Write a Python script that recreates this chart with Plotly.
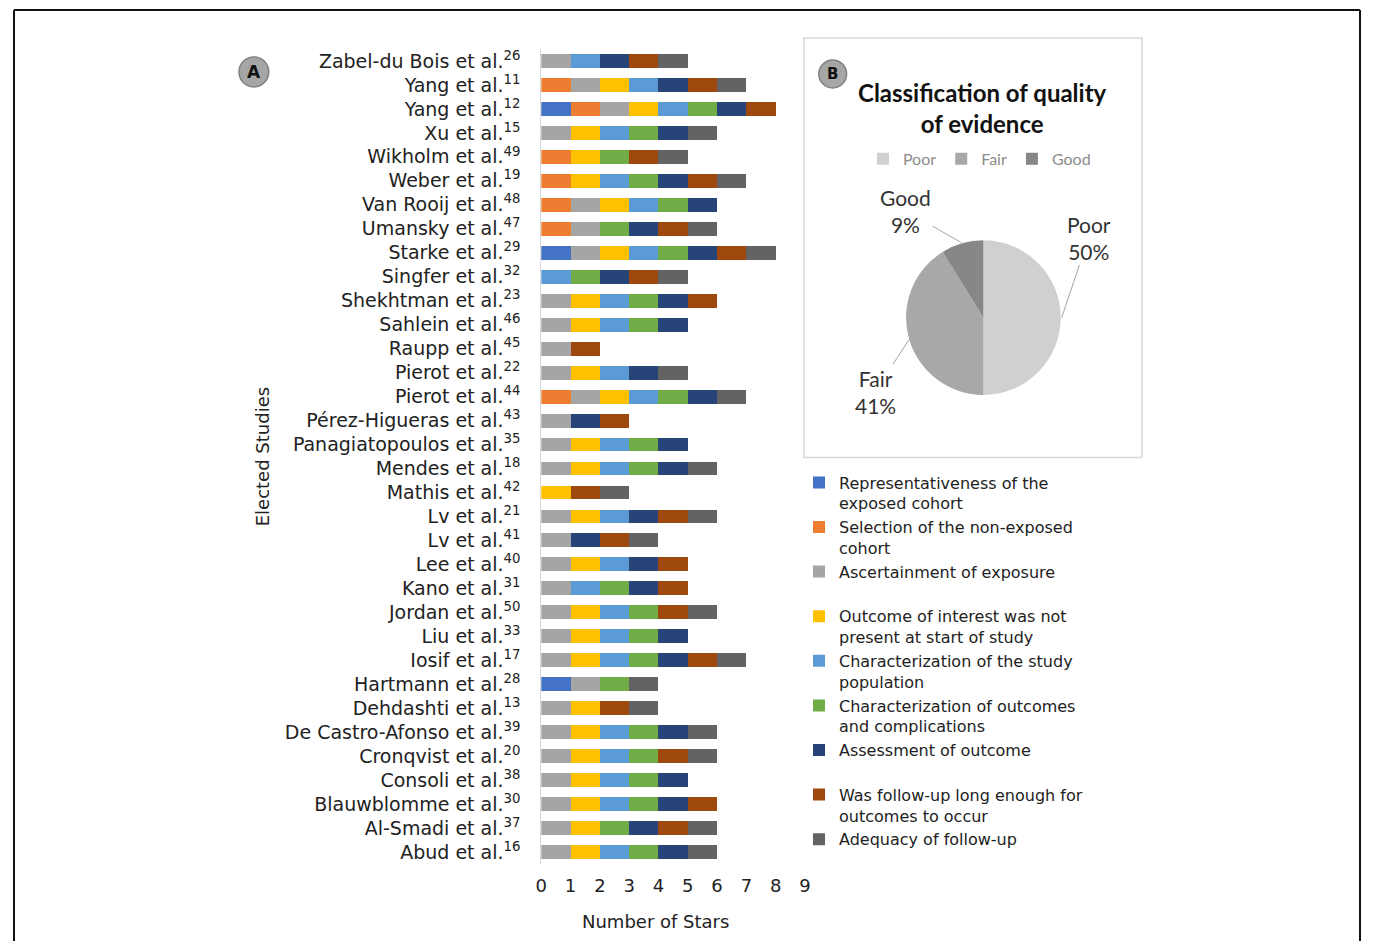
import plotly.graph_objects as go

# page has an 8px body margin: size the figure so the page fits the window
OFF = 8
W, H = 1375 - 2 * OFF, 949 - 2 * OFF

studies = [
    "Zabel-du Bois et al.<sup>26</sup>", "Yang et al.<sup>11</sup>", "Yang et al.<sup>12</sup>",
    "Xu et al.<sup>15</sup>", "Wikholm et al.<sup>49</sup>", "Weber et al.<sup>19</sup>",
    "Van Rooij et al.<sup>48</sup>", "Umansky et al.<sup>47</sup>", "Starke et al.<sup>29</sup>",
    "Singfer et al.<sup>32</sup>", "Shekhtman et al.<sup>23</sup>", "Sahlein et al.<sup>46</sup>",
    "Raupp et al.<sup>45</sup>", "Pierot et al.<sup>22</sup>", "Pierot et al.<sup>44</sup>",
    "Pérez-Higueras et al.<sup>43</sup>", "Panagiatopoulos et al.<sup>35</sup>", "Mendes et al.<sup>18</sup>",
    "Mathis et al.<sup>42</sup>", "Lv et al.<sup>21</sup>", "Lv et al.<sup>41</sup>",
    "Lee et al.<sup>40</sup>", "Kano et al.<sup>31</sup>", "Jordan et al.<sup>50</sup>",
    "Liu et al.<sup>33</sup>", "Iosif et al.<sup>17</sup>", "Hartmann et al.<sup>28</sup>",
    "Dehdashti et al.<sup>13</sup>", "De Castro-Afonso et al.<sup>39</sup>", "Cronqvist et al.<sup>20</sup>",
    "Consoli et al.<sup>38</sup>", "Blauwblomme et al.<sup>30</sup>", "Al-Smadi et al.<sup>37</sup>",
    "Abud et al.<sup>16</sup>",
]

criteria = [
    "Representativeness of the<br>exposed cohort",
    "Selection of the non-exposed<br>cohort",
    "Ascertainment of exposure<br> ",
    "Outcome of interest was not<br>present at start of study",
    "Characterization of the study<br>population",
    "Characterization of outcomes<br>and complications",
    "Assessment of outcome<br> ",
    "Was follow-up long enough for<br>outcomes to occur",
    "Adequacy of follow-up",
]

# stars per criterion (1 = star awarded), one entry per study in the order above
representativeness = [0,0,1,0,0,0,0,0,1,0,0,0,0,0,0,0,0,0,0,0,0,0,0,0,0,0,1,0,0,0,0,0,0,0]
selection_nonexp   = [0,1,1,0,1,1,1,1,0,0,0,0,0,0,1,0,0,0,0,0,0,0,0,0,0,0,0,0,0,0,0,0,0,0]
ascertainment      = [1,1,1,1,0,0,1,1,1,0,1,1,1,1,1,1,1,1,0,1,1,1,1,1,1,1,1,1,1,1,1,1,1,1]
outcome_not_pres   = [0,1,1,1,1,1,1,0,1,0,1,1,0,1,1,0,1,1,1,1,0,1,0,1,1,1,0,1,1,1,1,1,1,1]
char_population    = [1,1,1,1,0,1,1,0,1,1,1,1,0,1,1,0,1,1,0,1,0,1,1,1,1,1,0,0,1,1,1,1,0,1]
char_outcomes      = [0,0,1,1,1,1,1,1,1,1,1,1,0,0,1,0,1,1,0,0,0,0,1,1,1,1,1,0,1,1,1,1,1,1]
assessment         = [1,1,1,1,0,1,1,1,1,1,1,1,0,1,1,1,1,1,0,1,1,1,1,0,1,1,0,0,1,0,1,1,1,1]
followup_long      = [1,1,1,0,1,1,0,1,1,1,1,0,1,0,0,1,0,0,1,1,1,1,1,1,0,1,0,1,0,1,0,1,1,0]
followup_adequacy  = [1,1,0,1,1,1,0,1,1,1,0,0,0,1,1,0,0,1,1,1,1,0,0,1,0,1,1,1,1,1,0,0,1,1]

series = [representativeness, selection_nonexp, ascertainment, outcome_not_pres,
          char_population, char_outcomes, assessment, followup_long, followup_adequacy]
colors = ["#4472C4", "#ED7D31", "#A5A5A5", "#FFC000", "#5B9BD5",
          "#70AD47", "#264478", "#9E480E", "#636363"]

x_ticks = [0, 1, 2, 3, 4, 5, 6, 7, 8, 9]

quality_labels = ["Poor", "Fair", "Good"]
quality_counts = [17, 14, 3]
quality_colors = ["#D0D0D0", "#A8A8A8", "#878787"]


def px(x):
    return (x - OFF) / W


def py(y):
    return 1 - (y - OFF) / H


fig = go.Figure()

for name, vals, col in zip(criteria, series, colors):
    fig.add_trace(go.Bar(
        y=studies, x=vals, name=name, orientation="h",
        marker=dict(color=col, line=dict(width=0)),
        legend="legend", hoverinfo="skip",
    ))

fig.add_trace(go.Pie(
    labels=quality_labels, values=quality_counts, sort=False, direction="clockwise",
    rotation=0, marker=dict(colors=quality_colors, line=dict(color="#FFFFFF", width=0)),
    textinfo="none", domain=dict(x=[px(908), px(1064)], y=[py(395), py(239)]),
    legend="legend2", showlegend=True, hoverinfo="skip",
))

TXT = "DejaVu Sans, Verdana, sans-serif"
PIEF = "Lato, Open Sans, sans-serif"

fig.update_layout(
    width=W, height=H,
    margin=dict(l=0, r=0, t=0, b=0),
    paper_bgcolor="white", plot_bgcolor="white",
    barmode="stack", bargap=0.42,
    font=dict(family=TXT, size=17, color="#222222"),
    xaxis=dict(domain=[px(540), px(806)], range=[0, 9], tickvals=x_ticks,
               showgrid=False, zeroline=False, showline=False, ticks="",
               ticklabelstandoff=9,
               tickfont=dict(size=18, color="#222222", family=TXT)),
    yaxis=dict(domain=[py(864), py(48)], autorange="reversed",
               showgrid=False, zeroline=False, showline=True, linecolor="#D9D9D9",
               linewidth=1, ticks="", ticklabelstandoff=16,
               tickfont=dict(size=19, color="#222222", family=TXT)),
    legend=dict(x=px(800), y=py(465), xanchor="left", yanchor="top",
                traceorder="normal", valign="top", tracegroupgap=0,
                font=dict(size=16, color="#222222", family=TXT),
                itemwidth=30, bgcolor="rgba(0,0,0,0)"),
    legend2=dict(x=px(982), y=py(158), xanchor="center", yanchor="middle",
                 orientation="h", font=dict(size=16, color="#8C8C8C", family=PIEF),
                 itemwidth=30, bgcolor="rgba(0,0,0,0)"),
)

frame = dict(color="#111111", width=2)
shapes = [
    dict(type="line", xref="paper", yref="paper", x0=px(8), x1=px(1366), y0=py(9), y1=py(9), line=frame),
    dict(type="line", xref="paper", yref="paper", x0=px(8), x1=px(8), y0=py(9), y1=0, line=frame),
    dict(type="line", xref="paper", yref="paper", x0=px(1366), x1=px(1366), y0=py(9), y1=0, line=frame),
    dict(type="rect", xref="paper", yref="paper", x0=px(805), x1=px(1146), y0=py(457), y1=py(37),
         line=dict(color="#D9D9D9", width=1.5)),
    dict(type="circle", xref="paper", yref="paper", x0=px(235), x1=px(265), y0=py(86), y1=py(56),
         fillcolor="#A6A6A6", line=dict(color="#808080", width=1.5)),
    dict(type="circle", xref="paper", yref="paper", x0=px(820), x1=px(848), y0=py(87), y1=py(59),
         fillcolor="#A6A6A6", line=dict(color="#808080", width=1.5)),
]
fig.update_layout(shapes=shapes)

total = sum(quality_counts)
pct = [round(100 * v / total) for v in quality_counts]


def note(text, x, y, size, family=TXT, color="#222222", **kw):
    d = dict(text=text, x=px(x), y=py(y), xref="paper", yref="paper", showarrow=False,
             xanchor="center", yanchor="middle", font=dict(size=size, color=color, family=family))
    d.update(kw)
    return d


ann = [
    note("<b>A</b>", 250, 71, 17, color="#111111"),
    note("<b>B</b>", 834, 73, 15, color="#111111"),
    note("Elected Studies", 259, 456, 18, textangle=-90),
    note("Number of Stars", 655, 921, 18),
    note("<b>Classification of quality<br>of evidence</b>", 985, 107, 24, family=PIEF, color="#111111"),
    note(f"{quality_labels[0]}<br>{pct[0]}%", 1065, 317, 21, family=PIEF, color="#333333",
         showarrow=True, ax=27, ay=-80, arrowhead=0, arrowwidth=1, arrowcolor="#A6A6A6"),
    note(f"{quality_labels[2]}<br>{pct[2]}%", 964, 242, 21, family=PIEF, color="#333333",
         showarrow=True, ax=-56, ay=-32, arrowhead=0, arrowwidth=1, arrowcolor="#A6A6A6"),
    note(f"{quality_labels[1]}<br>{pct[1]}%", 911, 339, 21, family=PIEF, color="#333333",
         showarrow=True, ax=-34, ay=52, arrowhead=0, arrowwidth=1, arrowcolor="#A6A6A6"),
]
fig.update_layout(annotations=ann)

fig.write_html("out.html")
